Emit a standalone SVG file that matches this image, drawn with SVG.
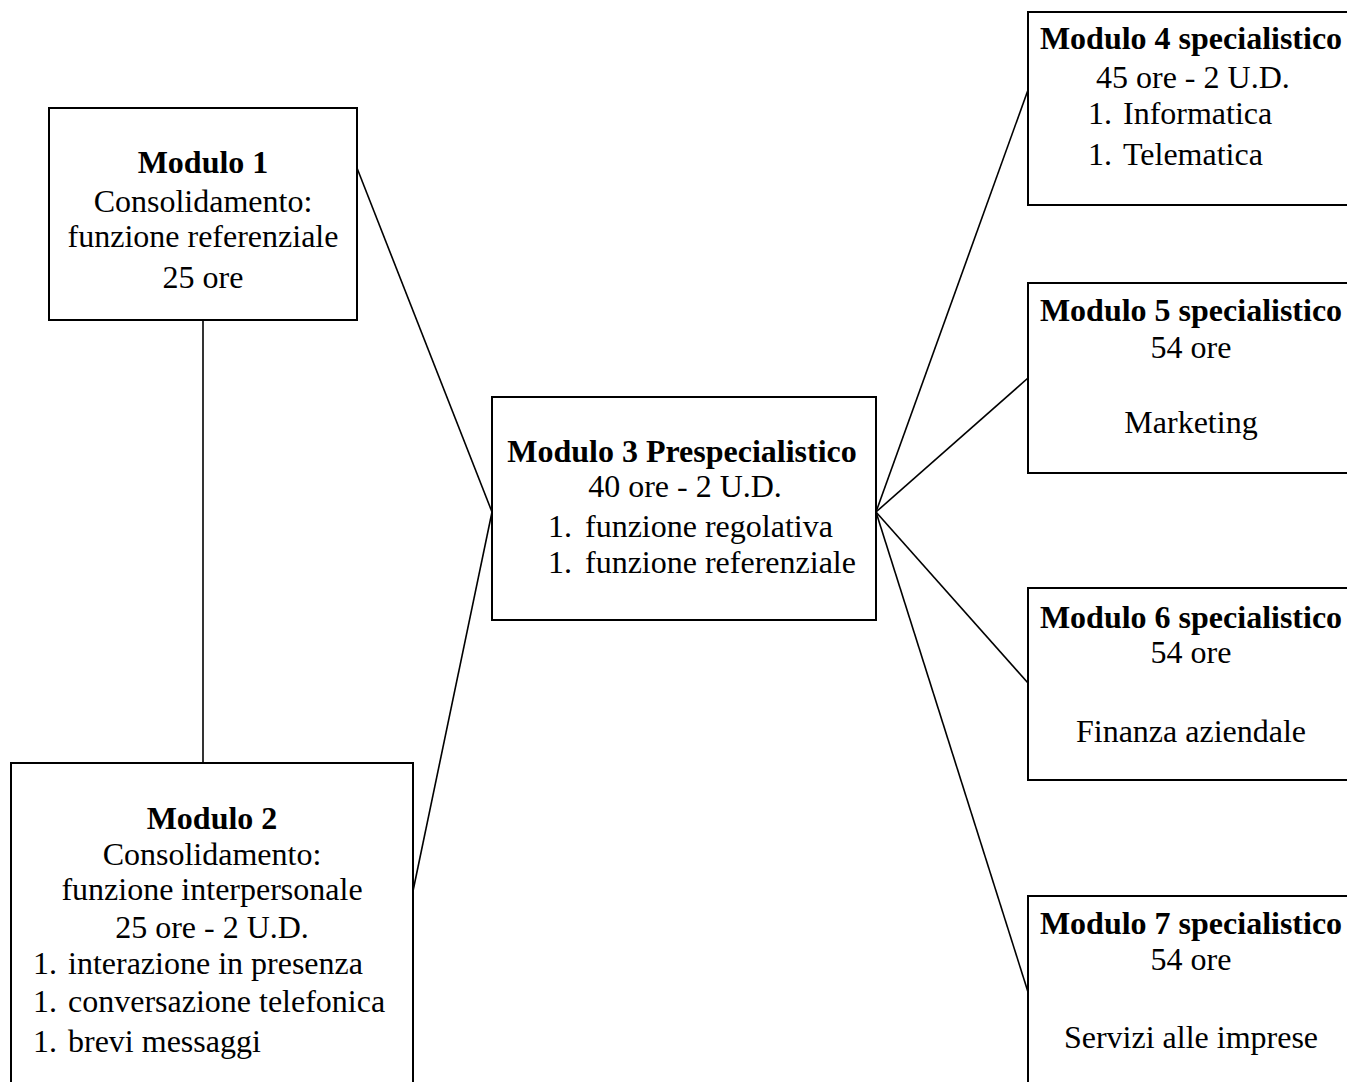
<svg xmlns="http://www.w3.org/2000/svg" width="1347" height="1082" viewBox="0 0 1347 1082">
  <style>
    .box { fill: #ffffff; stroke: #000000; stroke-width: 2; }
    .link { fill: none; stroke: #000000; stroke-width: 1.6; }
    text { font-family: "Liberation Serif", "Times New Roman", serif; font-size: 32px; fill: #000000; }
    .c { text-anchor: middle; }
    .b { font-weight: bold; }
  </style>
  <rect width="1347" height="1082" fill="#ffffff"/>

  <!-- connectors -->
  <g id="connectors">
    <line class="link" x1="203" y1="320" x2="203" y2="763"/>
    <line class="link" x1="357" y1="168" x2="492" y2="512"/>
    <line class="link" x1="413" y1="891" x2="492" y2="512"/>
    <line class="link" x1="876" y1="512" x2="1028" y2="90"/>
    <line class="link" x1="876" y1="512" x2="1028" y2="378"/>
    <line class="link" x1="876" y1="512" x2="1028" y2="683"/>
    <line class="link" x1="876" y1="512" x2="1028" y2="992"/>
  </g>

  <!-- Modulo 1 -->
  <g id="modulo1">
    <rect class="box" x="49" y="108" width="308" height="212"/>
    <text class="c b" x="203" y="173">Modulo 1</text>
    <text class="c" x="203" y="212">Consolidamento:</text>
    <text class="c" x="203" y="247">funzione referenziale</text>
    <text class="c" x="203" y="288">25 ore</text>
  </g>

  <!-- Modulo 2 -->
  <g id="modulo2">
    <rect class="box" x="11" y="763" width="402" height="340"/>
    <text class="c b" x="212" y="829">Modulo 2</text>
    <text class="c" x="212" y="865">Consolidamento:</text>
    <text class="c" x="212" y="900">funzione interpersonale</text>
    <text class="c" x="212" y="938">25 ore - 2 U.D.</text>
    <text x="33" y="974">1.</text><text x="68" y="974">interazione in presenza</text>
    <text x="33" y="1012">1.</text><text x="68" y="1012">conversazione telefonica</text>
    <text x="33" y="1052">1.</text><text x="68" y="1052">brevi messaggi</text>
  </g>

  <!-- Modulo 3 -->
  <g id="modulo3">
    <rect class="box" x="492" y="397" width="384" height="223"/>
    <text class="c b" x="682" y="462">Modulo 3 Prespecialistico</text>
    <text class="c" x="685" y="497">40 ore - 2 U.D.</text>
    <text x="548" y="537">1.</text><text x="585" y="537">funzione regolativa</text>
    <text x="548" y="573">1.</text><text x="585" y="573">funzione referenziale</text>
  </g>

  <!-- Modulo 4 -->
  <g id="modulo4">
    <rect class="box" x="1028" y="12" width="330" height="193"/>
    <text class="c b" x="1191" y="49">Modulo 4 specialistico</text>
    <text x="1096" y="88">45 ore - 2 U.D.</text>
    <text x="1088" y="124">1.</text><text x="1123" y="124">Informatica</text>
    <text x="1088" y="165">1.</text><text x="1123" y="165">Telematica</text>
  </g>

  <!-- Modulo 5 -->
  <g id="modulo5">
    <rect class="box" x="1028" y="283" width="330" height="190"/>
    <text class="c b" x="1191" y="321">Modulo 5 specialistico</text>
    <text class="c" x="1191" y="358">54 ore</text>
    <text class="c" x="1191" y="433">Marketing</text>
  </g>

  <!-- Modulo 6 -->
  <g id="modulo6">
    <rect class="box" x="1028" y="588" width="330" height="192"/>
    <text class="c b" x="1191" y="628">Modulo 6 specialistico</text>
    <text class="c" x="1191" y="663">54 ore</text>
    <text class="c" x="1191" y="742">Finanza aziendale</text>
  </g>

  <!-- Modulo 7 -->
  <g id="modulo7">
    <rect class="box" x="1028" y="896" width="330" height="200"/>
    <text class="c b" x="1191" y="934">Modulo 7 specialistico</text>
    <text class="c" x="1191" y="970">54 ore</text>
    <text class="c" x="1191" y="1048">Servizi alle imprese</text>
  </g>
</svg>
